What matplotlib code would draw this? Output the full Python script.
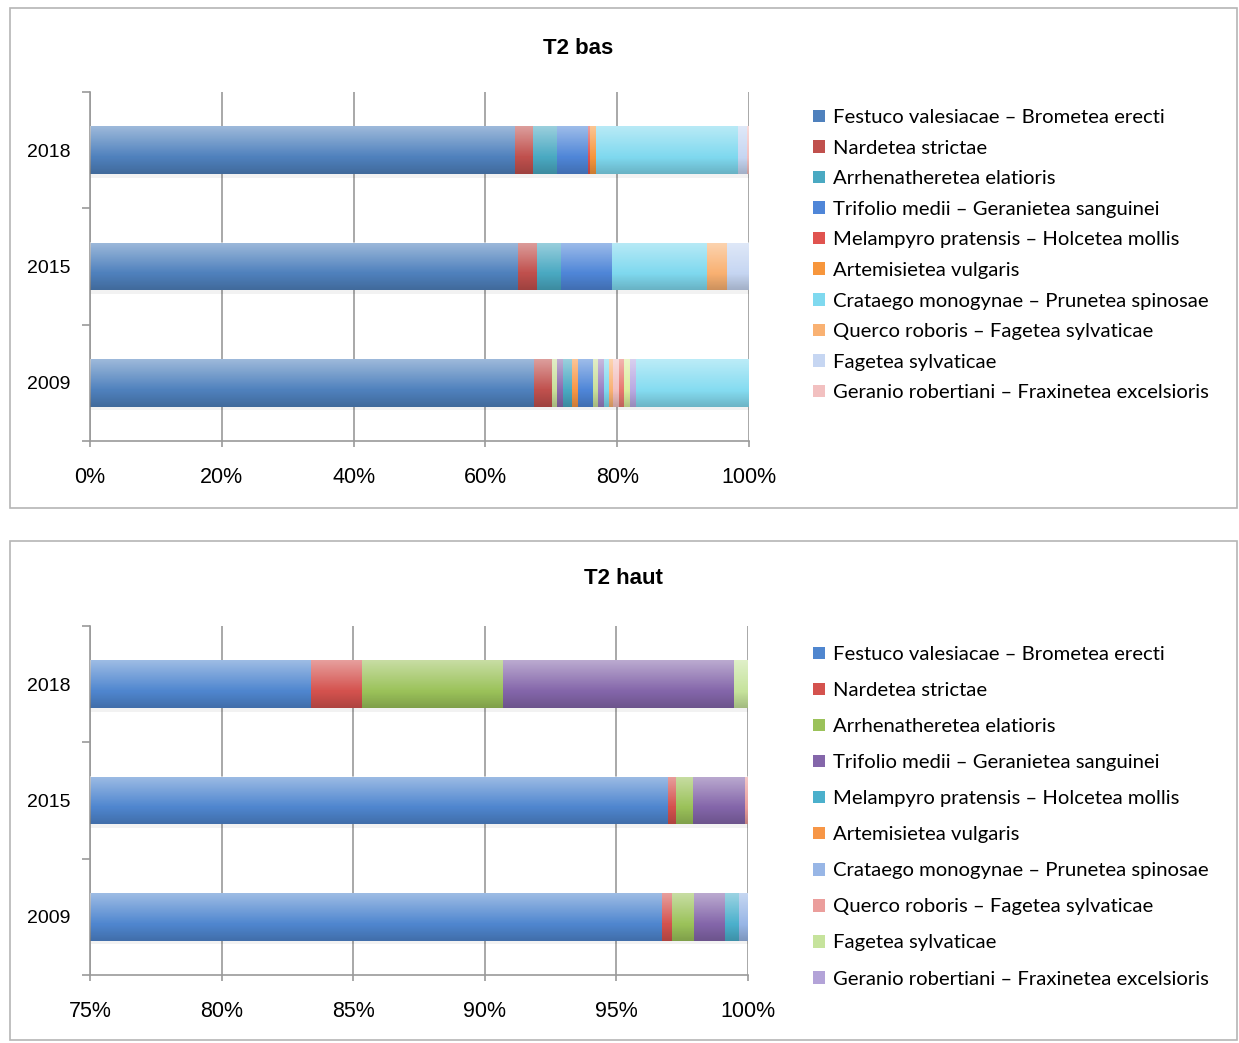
import numpy as np
import matplotlib
matplotlib.use("Agg")
import matplotlib.pyplot as plt
from matplotlib.patches import Patch, Rectangle

W, H = 1239, 1043
years = ["2009", "2015", "2018"]

# ---- T2 bas: phytosociological classes (percent cover per year) ----
# Unnamed entries are minor classes stacked in the bars but not listed in the legend.
bas_names = [
    "Festuco valesiacae – Brometea erecti",
    "Nardetea strictae",
    "", "",
    "Arrhenatheretea elatioris",
    "",
    "Trifolio medii – Geranietea sanguinei",
    "", "",
    "Melampyro pratensis – Holcetea mollis",
    "Artemisietea vulgaris",
    "Crataego monogynae – Prunetea spinosae",
    "Querco roboris – Fagetea sylvaticae",
    "Fagetea sylvaticae",
    "Geranio robertiani – Fraxinetea excelsioris",
    "", "", "", "", "",
]
bas_colors = [
    "#4f81bd", "#c0504d", "#c9df9a", "#8a6cb0", "#4aa9c2", "#f79646",
    "#4f86d8", "#c9df9a", "#9a80c4", "#e0534f", "#f7963c", "#7fd9ef",
    "#f9b172", "#c6d6f2", "#f2c0c0", "#c0b2e2", "#e8786f", "#dcee9e",
    "#b9a9e2", "#85dcf1",
]
bas_2009 = [67.4, 2.7, 0.8, 0.8, 1.5, 0.8, 2.3, 0.8, 0.9, 0.0, 0.0, 0.8,
            0.6, 0.0, 0.8, 0.0, 0.9, 0.8, 1.0, 17.1]
bas_2015 = [64.9, 3.0, 0.0, 0.0, 3.6, 0.0, 7.7, 0.0, 0.0, 0.0, 0.0, 14.4,
            3.0, 3.4, 0.0, 0.0, 0.0, 0.0, 0.0, 0.0]
bas_2018 = [64.5, 2.7, 0.0, 0.0, 3.6, 0.0, 4.7, 0.0, 0.0, 0.3, 1.0, 21.6,
            0.0, 1.3, 0.3, 0.0, 0.0, 0.0, 0.0, 0.0]
bas_ticks = [0, 20, 40, 60, 80, 100]

# ---- T2 haut ----
haut_names = [
    "Festuco valesiacae – Brometea erecti",
    "Nardetea strictae",
    "Arrhenatheretea elatioris",
    "Trifolio medii – Geranietea sanguinei",
    "Melampyro pratensis – Holcetea mollis",
    "Artemisietea vulgaris",
    "Crataego monogynae – Prunetea spinosae",
    "Querco roboris – Fagetea sylvaticae",
    "Fagetea sylvaticae",
    "Geranio robertiani – Fraxinetea excelsioris",
]
haut_colors = [
    "#4f86cf", "#d4524e", "#9bc25a", "#8466aa", "#4bb0cc", "#f79646",
    "#98b6e6", "#eb9e9c", "#c6e39c", "#b3a3d8",
]
haut_2009 = [96.75, 0.38, 0.80, 1.21, 0.50, 0.0, 0.36, 0.0, 0.0, 0.0]
haut_2015 = [96.95, 0.30, 0.65, 2.00, 0.0, 0.0, 0.0, 0.10, 0.0, 0.0]
haut_2018 = [83.40, 1.95, 5.35, 8.75, 0.0, 0.0, 0.0, 0.0, 0.55, 0.0]
haut_ticks = [75, 80, 85, 90, 95, 100]

TICK_FONT = "Liberation Sans"
LEG_FONT = "Lato"
GRID = "#9a9a9a"
BAR_H = 0.41


def px_rect(left, top, right, bottom):
    return [left / W, 1 - bottom / H, (right - left) / W, (bottom - top) / H]


def shade(ax, x0, x1, y):
    # vertical light-to-dark sheen over one stacked bar
    n = 64
    t = np.linspace(0, 1, n)  # 0 = bottom, 1 = top
    rgba = np.zeros((n, 1, 4))
    white = np.clip((t - 0.35) / 0.65, 0, 1) * 0.45
    dark = np.clip((0.35 - t) / 0.35, 0, 1) * 0.18
    rgba[:, 0, :3] = np.where(white[:, None] > 0, 1.0, 0.0)
    rgba[:, 0, 3] = np.maximum(white, dark)
    ax.imshow(rgba, extent=(x0, x1, y - BAR_H / 2, y + BAR_H / 2),
              origin="lower", aspect="auto", interpolation="bilinear", zorder=3)


def draw_panel(fig, frame, title, title_xy, ax_rect, names, colors, rows,
               ticks, leg_anchor, leg_spacing):
    fl, ft, fr, fb = frame
    fig.add_artist(Rectangle((fl / W, 1 - fb / H), (fr - fl) / W, (fb - ft) / H,
                             transform=fig.transFigure, fill=False,
                             edgecolor="#b5b5b5", lw=1.2))
    fig.text(title_xy[0] / W, 1 - title_xy[1] / H, title, ha="center",
             va="center", fontsize=16, fontweight="bold", family=TICK_FONT)

    ax = fig.add_axes(px_rect(*ax_rect))
    xmin, xmax = ticks[0], ticks[-1]
    ypos = np.arange(len(years))
    data = np.array(rows)
    left = np.zeros(len(years))
    for i, (name, col) in enumerate(zip(names, colors)):
        vals = data[:, i]
        ax.barh(ypos, vals, left=left, height=BAR_H, color=col,
                edgecolor="none", zorder=2)
        left = left + vals
    for y, tot in zip(ypos, left):
        ax.add_patch(Rectangle((xmin, y - BAR_H / 2 - 0.03), tot - xmin, 0.03,
                               facecolor="#000000", alpha=0.05, lw=0, zorder=1))
        shade(ax, xmin, tot, y)

    ax.set_xlim(xmin, xmax)
    ax.set_ylim(-0.5, len(years) - 0.5)
    ax.set_xticks(ticks)
    ax.set_xticklabels([f"{t}%" for t in ticks], fontsize=15.5, family=TICK_FONT)
    ax.set_yticks(ypos)
    ax.set_yticklabels(years, fontsize=14, family=TICK_FONT)
    ax.set_yticks(np.arange(len(years) + 1) - 0.5, minor=True)
    ax.tick_params(axis="y", which="major", length=0, pad=14)
    ax.tick_params(axis="y", which="minor", length=6, width=1.2, color=GRID,
                   direction="out")
    ax.tick_params(axis="x", length=4, width=1.2, color=GRID, pad=15)
    ax.xaxis.grid(True, color=GRID, lw=1.2, zorder=0)
    ax.set_axisbelow(True)
    for s in ("top", "right"):
        ax.spines[s].set_visible(False)
    for s in ("left", "bottom"):
        ax.spines[s].set_color(GRID)
        ax.spines[s].set_linewidth(1.2)

    handles = [Patch(facecolor=c, edgecolor="none")
               for n, c in zip(names, colors) if n]
    labels = [n for n in names if n]
    ax.legend(handles, labels, loc="upper left",
              bbox_to_anchor=(leg_anchor[0] / W, 1 - leg_anchor[1] / H),
              bbox_transform=fig.transFigure, frameon=False, borderpad=0,
              borderaxespad=0, handlelength=0.58, handleheight=0.58,
              handletextpad=0.42, labelspacing=leg_spacing,
              prop={"family": LEG_FONT, "size": 14.6})
    return ax


fig = plt.figure(figsize=(W / 100, H / 100), dpi=100)
fig.patch.set_facecolor("white")

draw_panel(fig, (10, 8, 1237, 508), "T2 bas", (578, 48), (90, 92, 749, 441),
           bas_names, bas_colors, [bas_2009, bas_2015, bas_2018], bas_ticks,
           (813, 109), 0.67)
draw_panel(fig, (10, 541, 1237, 1040), "T2 haut", (623, 579), (90, 626, 748, 975),
           haut_names, haut_colors, [haut_2009, haut_2015, haut_2018], haut_ticks,
           (813, 646), 0.94)

fig.savefig("out.png", dpi=100, facecolor="white")
